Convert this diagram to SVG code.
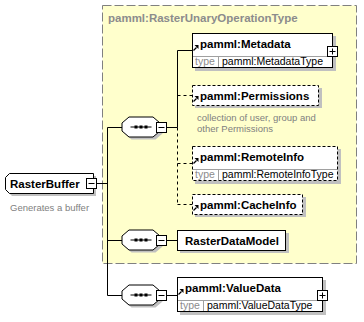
<svg xmlns="http://www.w3.org/2000/svg" xmlns:xlink="http://www.w3.org/1999/xlink" width="364" height="322" viewBox="0 0 364 322">
  <style>
    .name { font-family: "Liberation Sans", Arial, sans-serif; font-size: 11.5px; font-weight: bold; fill: #000; }
    .title { font-family: "Liberation Sans", Arial, sans-serif; font-size: 11.5px; font-weight: bold; fill: #8c8c8c; }
    .tlabel { font-family: "Liberation Sans", Arial, sans-serif; font-size: 10.5px; fill: #8c8c8c; }
    .tval { font-family: "Liberation Sans", Arial, sans-serif; font-size: 10.5px; fill: #000; }
    .doc { font-family: "Liberation Sans", Arial, sans-serif; font-size: 9.5px; fill: #808080; }
    .box { fill: #fff; stroke: #000; stroke-width: 1; }
    .opt { fill: #fff; stroke: #000; stroke-width: 1; stroke-dasharray: 3 2; }
    .shadow { fill: #c0c0c0; stroke: none; }
    .div { stroke: #a0a0a0; stroke-width: 1; fill: none; }
    .wire { stroke: #000; stroke-width: 1; fill: none; }
    .wire-opt { stroke: #000; stroke-width: 1; fill: none; stroke-dasharray: 3 3; }
  </style>
  <defs>
    <!-- reference arrow shown before global element names -->
    <g id="refmark">
      <path d="M0.5,5.5 L3.5,2.5" stroke="#000" stroke-width="1.2" fill="none"/>
      <path d="M1.5,0 H5.5 V4 Z" fill="#000"/>
    </g>
    <!-- collapse / expand buttons -->
    <g id="minus">
      <rect x="0.5" y="0.5" width="10" height="10" fill="#fff" stroke="#000"/>
      <path d="M2.5,5.5 H8.5" stroke="#000"/>
    </g>
    <g id="plus">
      <rect x="0.5" y="0.5" width="10" height="10" fill="#fff" stroke="#000"/>
      <path d="M2.5,5.5 H8.5 M5.5,2.5 V8.5" stroke="#000"/>
    </g>
    <!-- sequence compositor -->
    <g id="seq">
      <path d="M10,3 H34 L41,9 V17 L34,23 H10 L3,17 V9 Z" class="shadow"/>
      <path d="M7.5,0.5 H31.5 L38.5,6.5 V14.5 L31.5,20.5 H7.5 L0.5,14.5 V6.5 Z" fill="#fff" stroke="#000"/>
      <path d="M9,10.5 H30" stroke="#000"/>
      <rect x="13" y="9" width="3" height="3" fill="#000"/>
      <rect x="18" y="9" width="3" height="3" fill="#000"/>
      <rect x="23" y="9" width="3" height="3" fill="#000"/>
    </g>
  </defs>

  <!-- complex type area -->
  <g id="complexType">
    <rect x="102.5" y="5.5" width="254" height="258" fill="#ffffcc" stroke="#808080" stroke-dasharray="9 3"/>
    <text class="title" x="108" y="22">pamml:RasterUnaryOperationType</text>
  </g>

  <!-- connectors -->
  <g id="connectors">
    <path class="wire" d="M97,183.5 H107.5 M107.5,127.5 V295.5 M107.5,127.5 H122 M107.5,240.5 H122 M107.5,295.5 H122"/>
    <path class="wire" d="M166,127.5 H177.5 M177.5,127.5 V50.5 H192"/>
    <path class="wire-opt" d="M177.5,127.5 V204.5 M177.5,95.5 H192 M177.5,163.5 H192 M177.5,204.5 H192"/>
    <path class="wire" d="M166,240.5 H177 M166,295.5 H177"/>
  </g>

  <!-- root element -->
  <g id="RasterBuffer">
    <path class="shadow" d="M12,176 H96 V196 H12 L8,192 V180 Z"/>
    <path class="box" d="M9.5,173.5 H93.5 V193.5 H9.5 L5.5,189.5 V177.5 Z"/>
    <text class="name" x="10" y="188">RasterBuffer</text>
    <use xlink:href="#minus" x="86" y="178"/>
    <text class="doc" x="10" y="211">Generates a buffer</text>
  </g>

  <g id="seq1"><use xlink:href="#seq" x="121.5" y="116.5"/><use xlink:href="#minus" x="156" y="122"/></g>
  <g id="seq2"><use xlink:href="#seq" x="121.5" y="229.5"/><use xlink:href="#minus" x="156" y="235"/></g>
  <g id="seq3"><use xlink:href="#seq" x="121.5" y="284.5"/><use xlink:href="#minus" x="156" y="290"/></g>

  <g id="Metadata">
    <rect class="shadow" x="195" y="36" width="141" height="35"/>
    <rect class="box" x="192.5" y="33.5" width="140" height="34"/>
    <path class="div" d="M193,56.5 H332 M218.5,57 V67"/>
    <use xlink:href="#refmark" x="193" y="45"/>
    <text class="name" x="200" y="48">pamml:Metadata</text>
    <text class="tlabel" x="195" y="65">type</text>
    <text class="tval" x="222" y="65">pamml:MetadataType</text>
    <use xlink:href="#plus" x="327" y="46"/>
  </g>

  <g id="Permissions">
    <rect class="shadow" x="195" y="88" width="127" height="20"/>
    <rect class="opt" x="192.5" y="85.5" width="126" height="20"/>
    <use xlink:href="#refmark" x="193" y="96"/>
    <text class="name" x="200" y="99.5">pamml:Permissions</text>
    <text class="doc" x="197" y="121">collection of user, group and</text>
    <text class="doc" x="197" y="132">other Permissions</text>
  </g>

  <g id="RemoteInfo">
    <rect class="shadow" x="195" y="149" width="146" height="35"/>
    <rect class="opt" x="192.5" y="146.5" width="145" height="34"/>
    <path class="div" d="M193,169.5 H337 M218.5,170 V180"/>
    <use xlink:href="#refmark" x="193" y="158"/>
    <text class="name" x="200" y="161">pamml:RemoteInfo</text>
    <text class="tlabel" x="195" y="178">type</text>
    <text class="tval" x="222" y="178">pamml:RemoteInfoType</text>
  </g>

  <g id="CacheInfo">
    <rect class="shadow" x="195" y="197" width="111" height="20"/>
    <rect class="opt" x="192.5" y="194.5" width="110" height="20"/>
    <use xlink:href="#refmark" x="193" y="205"/>
    <text class="name" x="200" y="208.5">pamml:CacheInfo</text>
  </g>

  <g id="RasterDataModel">
    <rect class="shadow" x="180" y="233" width="109" height="20"/>
    <rect class="box" x="177.5" y="230.5" width="108" height="20"/>
    <text class="name" x="185" y="244.5">RasterDataModel</text>
  </g>

  <g id="ValueData">
    <rect class="shadow" x="180" y="280" width="146" height="35"/>
    <rect class="box" x="177.5" y="277.5" width="145" height="34"/>
    <path class="div" d="M178,300.5 H322 M203.5,301 V311"/>
    <use xlink:href="#refmark" x="178" y="289"/>
    <text class="name" x="185" y="292">pamml:ValueData</text>
    <text class="tlabel" x="180" y="309">type</text>
    <text class="tval" x="207" y="309">pamml:ValueDataType</text>
    <use xlink:href="#plus" x="317" y="290"/>
  </g>
</svg>
